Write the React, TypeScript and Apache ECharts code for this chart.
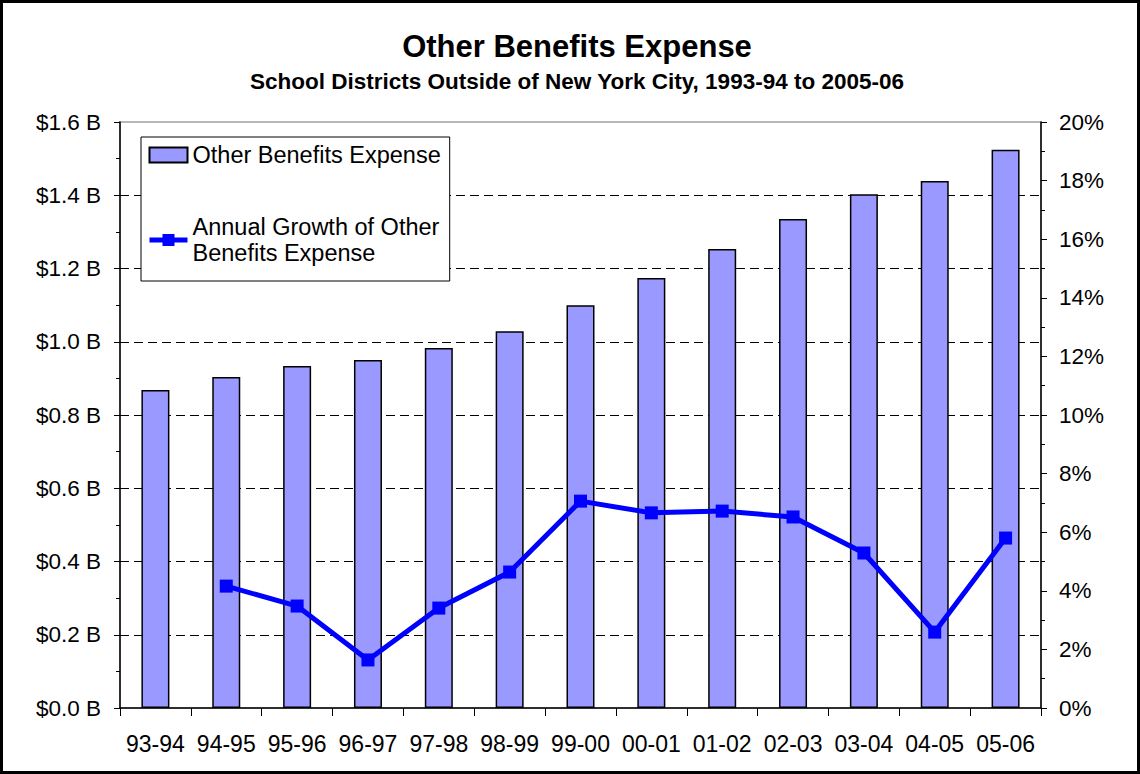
import React, { useEffect, useRef } from "react";
import * as echarts from "echarts";

const categories = ["93-94", "94-95", "95-96", "96-97", "97-98", "98-99", "99-00", "00-01", "01-02", "02-03", "03-04", "04-05", "05-06"];
const expenseBillions = [0.868, 0.904, 0.934, 0.950, 0.983, 1.029, 1.100, 1.174, 1.253, 1.335, 1.403, 1.439, 1.524];
const growthPct = [null, 4.16, 3.48, 1.64, 3.41, 4.64, 7.06, 6.66, 6.72, 6.52, 5.29, 2.59, 5.80];
const titleText = "Other Benefits Expense";
const subtitleText = "School Districts Outside of New York City, 1993-94 to 2005-06";
const barName = "Other Benefits Expense";
const lineName = "Annual Growth of Other Benefits Expense";

const FONT = "Arial, 'Liberation Sans', sans-serif";

export default function App() {
  const ref = useRef<HTMLDivElement>(null);
  useEffect(() => {
    document.body.style.margin = "0";
    const chart = echarts.init(ref.current!, null, { renderer: "svg" });
    chart.setOption({
      animation: false,
      backgroundColor: "#ffffff",
      title: {
        text: titleText,
        subtext: subtitleText,
        left: 577,
        textAlign: "center",
        top: 31,
        padding: 0,
        itemGap: 8,
        textStyle: { fontFamily: FONT, fontSize: 31, fontWeight: "bold", color: "#000", lineHeight: 30 },
        subtextStyle: { fontFamily: FONT, fontSize: 22.5, fontWeight: "bold", color: "#000", lineHeight: 22 },
      },
      graphic: [
        {
          type: "rect",
          shape: { x: 1.5, y: 1.5, width: 1137, height: 771 },
          style: { fill: "none", stroke: "#000", lineWidth: 3 },
          silent: true,
          z: 100,
        },
      ],
      legend: {
        orient: "vertical",
        left: 141,
        top: 137,
        padding: [5, 9, 2, 6],
        borderColor: "#000",
        borderWidth: 1,
        backgroundColor: "#fff",
        itemWidth: 38,
        itemHeight: 15,
        itemGap: 33,
        textStyle: { fontFamily: FONT, fontSize: 23.5, color: "#000", lineHeight: 26 },
        data: [
          { name: barName, icon: "rect" },
          { name: lineName, textStyle: { padding: [26, 0, 0, 0] }, lineStyle: { width: 5 } },
        ],
        formatter: (n: string) => (n === lineName ? "Annual Growth of Other\nBenefits Expense" : n),
      },
      grid: {
        left: 120,
        right: 99,
        top: 122,
        bottom: 66,
        show: true,
        borderColor: "#b8b8b8",
        borderWidth: 2,
        backgroundColor: "transparent",
      },
      xAxis: {
        type: "category",
        data: categories,
        boundaryGap: true,
        axisLine: { lineStyle: { color: "#000", width: 1.5 } },
        axisTick: { show: true, length: 8, lineStyle: { color: "#000" } },
        axisLabel: { fontFamily: FONT, fontSize: 23, color: "#000", margin: 24, interval: 0 },
      },
      yAxis: [
        {
          type: "value",
          min: 0,
          max: 1.6,
          interval: 0.2,
          position: "left",
          axisLine: { show: true, lineStyle: { color: "#000", width: 1.5 } },
          axisTick: { show: true, length: 6, lineStyle: { color: "#000" } },
          minorTick: { show: true, splitNumber: 2, length: 4, lineStyle: { color: "#000" } },
          axisLabel: {
            fontFamily: FONT,
            fontSize: 22.5,
            color: "#000",
            margin: 19,
            formatter: (v: number) => "$" + v.toFixed(1) + " B",
          },
          splitLine: {
            show: true,
            lineStyle: {
              color: ["transparent", "#000", "#000", "#000", "#000", "#000", "#000", "#000", "transparent"],
              type: [9, 5],
              width: 1,
            },
          },
        },
        {
          type: "value",
          min: 0,
          max: 20,
          interval: 2,
          position: "right",
          axisLine: { show: true, lineStyle: { color: "#000", width: 1.5 } },
          axisTick: { show: true, length: 6, lineStyle: { color: "#000" } },
          minorTick: { show: true, splitNumber: 2, length: 4, lineStyle: { color: "#000" } },
          axisLabel: {
            fontFamily: FONT,
            fontSize: 22.5,
            color: "#000",
            margin: 18,
            formatter: (v: number) => v + "%",
          },
          splitLine: { show: false },
        },
      ],
      series: [
        {
          name: barName,
          type: "bar",
          yAxisIndex: 0,
          data: expenseBillions,
          barWidth: 28,
          itemStyle: { color: "#9999FF", borderColor: "#000", borderWidth: 1.5 },
          z: 2,
        },
        {
          name: lineName,
          type: "line",
          yAxisIndex: 1,
          data: growthPct,
          connectNulls: false,
          symbol: "rect",
          symbolSize: 13,
          lineStyle: { color: "#0000FF", width: 5 },
          itemStyle: { color: "#0000FF" },
          z: 3,
        },
      ],
    });
    return () => chart.dispose();
  }, []);
  return <div ref={ref} style={{ width: 1140, height: 774 }} />;
}
